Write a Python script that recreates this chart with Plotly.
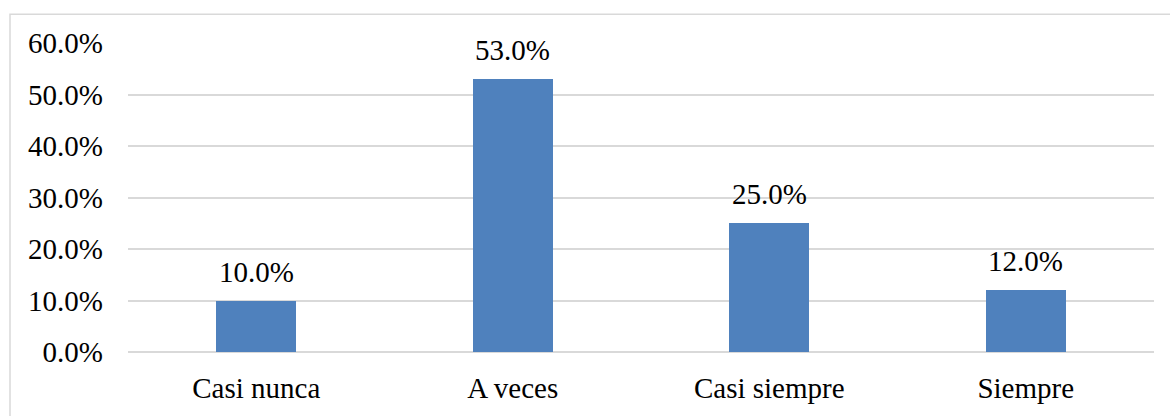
import plotly.graph_objects as go

categories = ["Casi nunca", "A veces", "Casi siempre", "Siempre"]
values = [10.0, 53.0, 25.0, 12.0]
y_ticks = [0, 10, 20, 30, 40, 50, 60]
y_tick_labels = ["0.0%", "10.0%", "20.0%", "30.0%", "40.0%", "50.0%", "60.0%"]

W, H = 1170, 416
L, R, T, B = 128, 16, 42.5, 61.5
pw, ph = W - L - R, H - T - B

font = dict(family="Liberation Serif, Times New Roman, serif", size=29, color="#000000")

fig = go.Figure(
    go.Bar(
        x=categories,
        y=values,
        width=0.312,
        marker=dict(color="#4F81BD", line=dict(width=0)),
        cliponaxis=False,
        hoverinfo="x+y",
    )
)

# value labels sitting above each bar
for cat, v in zip(categories, values):
    fig.add_annotation(
        x=cat,
        y=v,
        text=f"{v:.1f}%",
        showarrow=False,
        xanchor="center",
        yanchor="bottom",
        yshift=11,
        font=font,
    )

fig.update_layout(
    width=W,
    height=H,
    margin=dict(l=L, r=R, t=T, b=B, pad=0),
    paper_bgcolor="#ffffff",
    plot_bgcolor="#ffffff",
    font=font,
    showlegend=False,
    bargap=0.0,
    xaxis=dict(
        showgrid=False,
        showline=False,
        ticks="",
        tickfont=font,
        range=[-0.5, 3.5],
        ticklabelstandoff=16,
    ),
    yaxis=dict(
        range=[0, 60],
        tickvals=y_ticks,
        ticktext=y_tick_labels,
        showgrid=True,
        gridcolor="#d9d9d9",
        gridwidth=1.5,
        zeroline=True,
        zerolinecolor="#d9d9d9",
        zerolinewidth=1.5,
        showline=False,
        ticks="",
        tickfont=font,
        ticklabelstandoff=24,
    ),
    shapes=[
        dict(
            type="rect",
            xref="paper",
            yref="paper",
            x0=(10 - L) / pw,
            x1=(W + 10 - L) / pw,
            y0=-(B + 10) / ph,
            y1=(H - B - 13.5) / ph,
            line=dict(color="#d9d9d9", width=1.5),
            fillcolor="rgba(0,0,0,0)",
            layer="below",
        )
    ],
)

fig.write_html("out.html")
